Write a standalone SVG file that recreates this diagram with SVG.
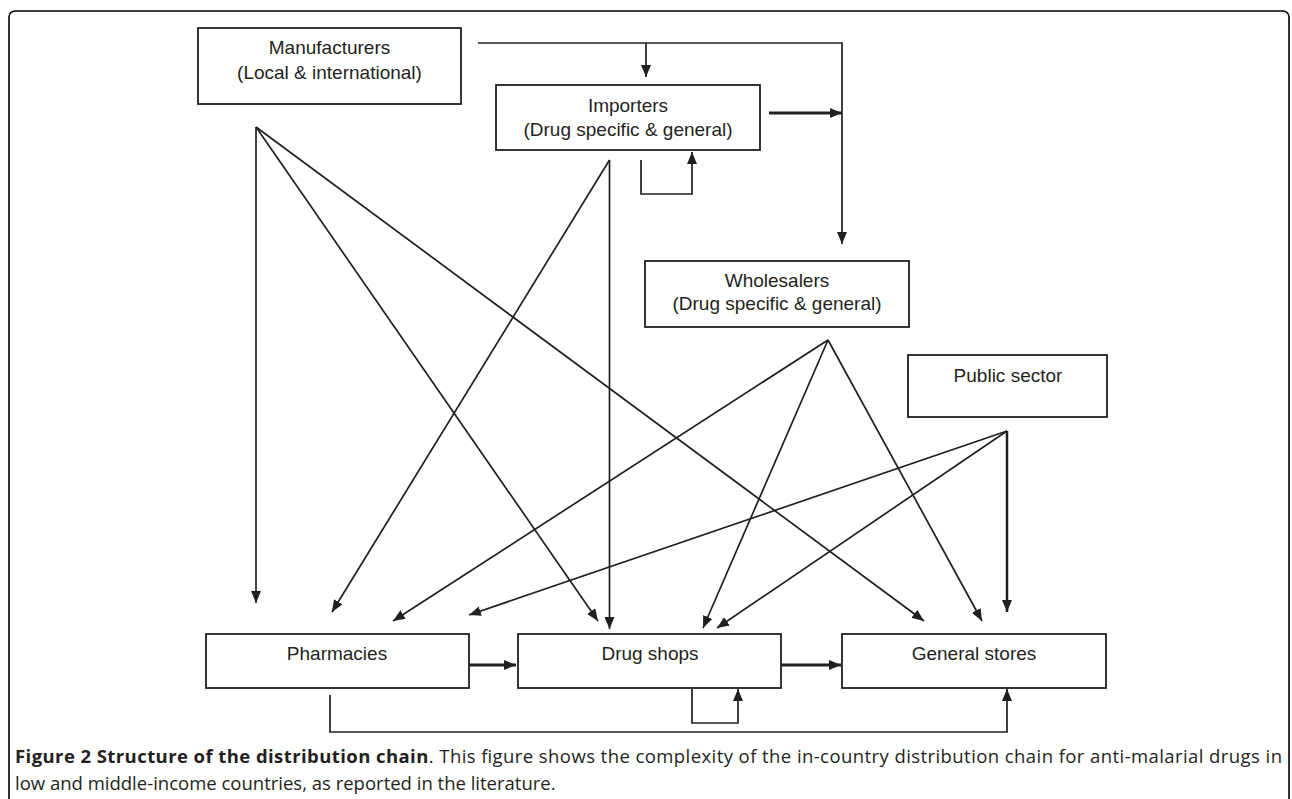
<svg xmlns="http://www.w3.org/2000/svg" width="1292" height="799" viewBox="0 0 1292 799">
<defs>
<marker id="ah" markerUnits="userSpaceOnUse" markerWidth="12" markerHeight="10" refX="12" refY="5" orient="auto">
<path d="M0,0 L12,5 L0,10 z" fill="#231f20"/>
</marker>
<style>
.box{fill:#fff;stroke:#231f20;stroke-width:1.8}
.lbl{font-family:"Liberation Sans",Arial,sans-serif;font-size:19px;fill:#231f20;text-anchor:middle}
.ln{fill:none;stroke:#231f20;stroke-width:1.7}
.arr{fill:none;stroke:#231f20;stroke-width:1.7;marker-end:url(#ah)}
.thk{fill:none;stroke:#231f20;stroke-width:3;marker-end:url(#ah)}
.cap{font-family:"Open Sans",sans-serif;font-size:18.5px;fill:#231f20}
</style>
</defs>
<rect x="9" y="11" width="1280" height="820" rx="6" fill="#fff" stroke="#000" stroke-width="1.6"/>

<g id="manufacturers">
<rect class="box" x="198" y="28" width="263" height="76"/>
<text class="lbl" x="329.5" y="54">Manufacturers</text>
<text class="lbl" x="329.5" y="79">(Local &amp; international)</text>
</g>
<g id="importers">
<rect class="box" x="496" y="85" width="264" height="65"/>
<text class="lbl" x="628" y="112">Importers</text>
<text class="lbl" x="628" y="136">(Drug specific &amp; general)</text>
</g>
<g id="wholesalers">
<rect class="box" x="645" y="261" width="264" height="66"/>
<text class="lbl" x="777" y="287">Wholesalers</text>
<text class="lbl" x="777" y="310">(Drug specific &amp; general)</text>
</g>
<g id="public-sector">
<rect class="box" x="908" y="355" width="199" height="62"/>
<text class="lbl" x="1008" y="382">Public sector</text>
</g>
<g id="pharmacies">
<rect class="box" x="206" y="634" width="263" height="54"/>
<text class="lbl" x="337" y="660">Pharmacies</text>
</g>
<g id="drug-shops">
<rect class="box" x="518" y="634" width="263" height="54"/>
<text class="lbl" x="650" y="660">Drug shops</text>
</g>
<g id="general-stores">
<rect class="box" x="842" y="634" width="264" height="54"/>
<text class="lbl" x="974" y="660">General stores</text>
</g>

<g id="connectors">
<path class="arr" d="M478,43 H842 V244"/>
<path class="arr" d="M646,43 V77"/>
<path class="thk" d="M769,113 H842"/>
<path class="arr" d="M641,160 V194 H692 V152"/>

<path class="arr" d="M256,127 V603"/>
<path class="arr" d="M256,127 L598,621"/>
<path class="arr" d="M256,127 L924,621"/>

<path class="arr" d="M609.5,160 L332,612"/>
<path class="arr" d="M609.5,160 V629"/>

<path class="arr" d="M828,340 L393,621"/>
<path class="arr" d="M828,340 L703,628"/>
<path class="arr" d="M828,340 L982,621"/>

<path class="arr" d="M1007,431 L469,615"/>
<path class="arr" d="M1007,431 L717,628"/>
<path class="arr" d="M1007,431 V612" style="stroke-width:2.5"/>

<path class="thk" d="M469,665 H516"/>
<path class="thk" d="M781,665 H841"/>
<path class="arr" d="M692,689 V723 H738 V689"/>
<path class="arr" d="M330,695 V732 H1007 V689"/>
</g>

<text class="cap" x="15" y="763" textLength="1267" lengthAdjust="spacing"><tspan font-weight="bold">Figure 2 Structure of the distribution chain</tspan>. This figure shows the complexity of the in-country distribution chain for anti-malarial drugs in</text>
<text class="cap" x="15" y="790">low and middle-income countries, as reported in the literature.</text>
</svg>
